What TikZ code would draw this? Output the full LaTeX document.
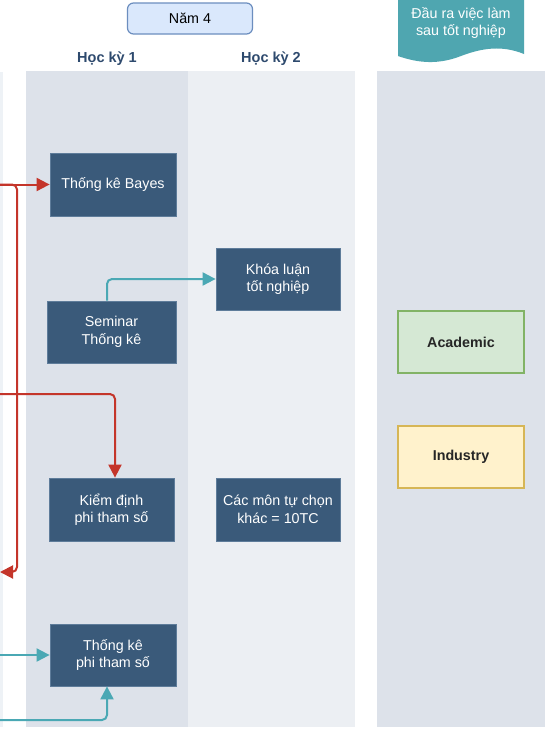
\documentclass[tikz,border=0pt]{standalone}
\usepackage{fontspec}
\setmainfont{Liberation Sans}
\usetikzlibrary{arrows.meta}
\definecolor{colA}{HTML}{DDE2EA}
\definecolor{colB}{HTML}{ECEFF3}
\definecolor{strip}{HTML}{EEF2F6}
\definecolor{nodefill}{HTML}{3A5A7A}
\definecolor{nodeline}{HTML}{5E7C9A}
\definecolor{hdr}{HTML}{2E4A6E}
\definecolor{redc}{HTML}{C4352A}
\definecolor{tealc}{HTML}{4AA8B4}
\definecolor{tealdoc}{HTML}{4FA6B0}
\definecolor{acfill}{HTML}{D5E8D4}
\definecolor{acline}{HTML}{82B366}
\definecolor{infill}{HTML}{FFF2CC}
\definecolor{inline}{HTML}{D6B656}
\definecolor{yrfill}{HTML}{DAE8FC}
\definecolor{yrline}{HTML}{6C8EBF}
\begin{document}
\begin{tikzpicture}[x=1pt,y=-1pt,
  txt/.style={font=\fontsize{14.3}{17.5}\selectfont, align=center},
  course/.style={txt, fill=nodefill, draw=nodeline, line width=0.8pt, text=white,
    minimum width=126pt, minimum height=63pt, inner sep=0pt},
  outcome/.style={txt, font=\fontsize{14.3}{17.5}\selectfont\bfseries, text=black!85,
    line width=2pt, minimum width=126pt, minimum height=62pt, inner sep=0pt},
  semhdr/.style={txt, font=\fontsize{14.5}{17}\selectfont\bfseries, text=hdr},
  redarrow/.style={draw=redc, line width=2pt, rounded corners=5pt,
    -{Triangle[length=13pt,width=13pt]}},
  tealarrow/.style={draw=tealc, line width=2pt, rounded corners=5pt,
    -{Triangle[length=13pt,width=13pt]}}
]
\useasboundingbox (0,0) rectangle (550,734);
\fill[white] (0,0) rectangle (550,734);
% columns
\fill[strip] (0,72) rectangle (3,727);
\fill[colA] (26,71) rectangle (188,727);
\fill[colB] (188,71) rectangle (355,727);
\fill[colA] (377,71) rectangle (545,727);
% year box
\node[txt, fill=yrfill, draw=yrline, line width=1.2pt, rounded corners=6pt,
  minimum width=125pt, minimum height=31pt, inner sep=0pt] (year) at (190,18.5) {Năm 4};
% outcome header (document shape)
\fill[tealdoc] (398,0) -- (524,0) -- (524,54)
  .. controls (502,45) and (482,48) .. (461,56)
  .. controls (438,65) and (418,63) .. (398,56) -- cycle;
\node[txt, text=white] (outhdr) at (461,23) {Đầu ra việc làm\\sau tốt nghiệp};
% semester headers
\node[semhdr] (hk1) at (107,59) {Học kỳ 1};
\node[semhdr] (hk2) at (271,59) {Học kỳ 2};
% courses
\node[course] (bayes) at (113,184.5) {Thống kê Bayes};
\node[course, minimum width=124pt, minimum height=62pt] (khoa) at (278,279) {Khóa luận\\tốt nghiệp};
\node[course, minimum width=129pt, minimum height=62pt] (seminar) at (111.5,332) {Seminar\\Thống kê};
\node[course, minimum width=125pt] (kiem) at (111.5,509.5) {Kiểm định\\phi tham số};
\node[course, minimum width=124pt] (tuchon) at (278,509.5) {Các môn tự chọn\\khác = 10TC};
\node[course, minimum height=62pt] (tkphi) at (113,655) {Thống kê\\phi tham số};
% outcomes
\node[outcome, fill=acfill, draw=acline] (acad) at (461,342) {Academic};
\node[outcome, fill=infill, draw=inline] (ind) at (461,457) {Industry};
% connector ends off the left edge
\coordinate (rA) at (0,184.5);
\coordinate (rB) at (0,572);
\coordinate (rC) at (0,394);
\coordinate (tA) at (0,655);
\coordinate (tB) at (0,720);
\coordinate (rV) at (17,184.5);
% red connectors
\draw[redarrow] (rA) -- (bayes.west);
\draw[redarrow] (rA) -- (rV) -- (rV |- rB) -- (rB);
\draw[redarrow] (rC) -| ([xshift=3.5pt]kiem.north);
% teal connectors
\draw[tealarrow] ([xshift=-4.5pt]seminar.north) |- (khoa.west);
\draw[tealarrow] (tA) -- (tkphi.west);
\draw[tealarrow] (tB) -| ([xshift=-6pt]tkphi.south);
\end{tikzpicture}
\end{document}
